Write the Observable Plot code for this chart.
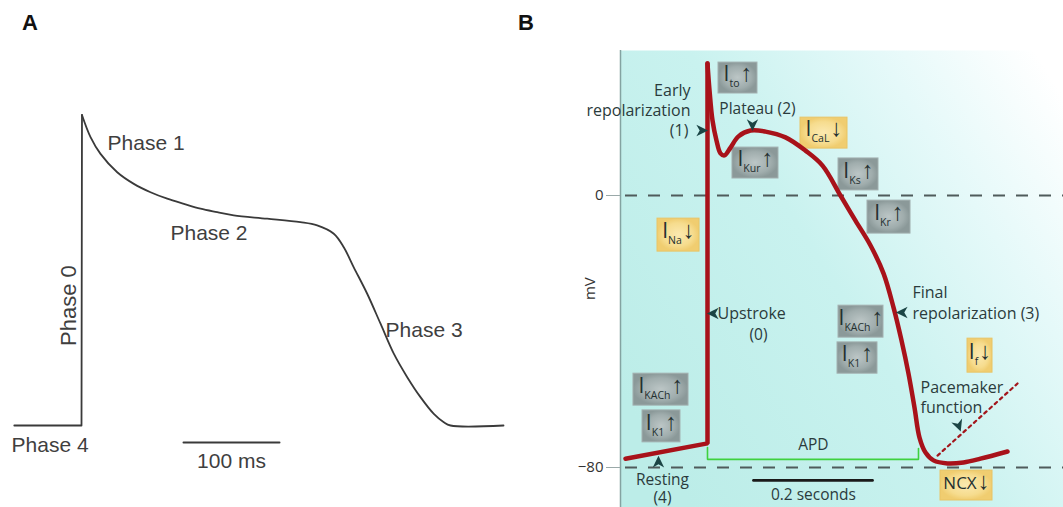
<!DOCTYPE html>
<html>
<head>
<meta charset="utf-8">
<script src="https://cdn.jsdelivr.net/npm/d3@7"></script>
<script src="https://cdn.jsdelivr.net/npm/@observablehq/plot@0.6"></script>
<style>
  body { margin: 0; background: #fff; }
  #fig { position: relative; width: 1063px; height: 507px; overflow: hidden; }
  #fig svg { position: absolute; top: 0; background: transparent; }
  .panel-label { position: absolute; font: bold 22px "Liberation Sans", Arial, sans-serif; color: #111; }
</style>
</head>
<body>
<div id="fig"></div>
<script>
// ---------- Panel A: schematic ventricular action potential (time in ms, voltage in mV) ----------
const restA = [
  {t: -70, v: -85}, {t: 0, v: -85}, {t: 0.5, v: 30}
];
const repolA = [
  {t: 0.5, v: 30}, {t: 9.4, v: 21.8}, {t: 19.8, v: 15.6}, {t: 37.2, v: 8.8},
  {t: 54.5, v: 4.5}, {t: 71.9, v: 1.4}, {t: 89.3, v: -1.0}, {t: 106.6, v: -2.9},
  {t: 124, v: -4.7}, {t: 141.4, v: -6.0}, {t: 158.6, v: -7.2}, {t: 193.4, v: -8.4},
  {t: 228, v: -9.7}, {t: 245.5, v: -10.9}, {t: 262.8, v: -14.0}, {t: 273.2, v: -19.0},
  {t: 283.6, v: -26.4}, {t: 297.6, v: -36.2}, {t: 311.5, v: -47.3}, {t: 325.3, v: -58.4},
  {t: 339.3, v: -67.1}, {t: 353.1, v: -74.5}, {t: 367, v: -80.7}, {t: 377.4, v: -83.8},
  {t: 384.4, v: -85}, {t: 439.6, v: -85}
];
const phaseLabelsA = [
  {text: "Phase 1", t: 27.1, v: 19.4},
  {text: "Phase 2", t: 92.7, v: -13.9},
  {text: "Phase 3", t: 316.7, v: -49.8},
  {text: "Phase 4", t: -72.9, v: -92.4}
];
const phase0LabelA = [{text: "Phase 0", t: -13.5, v: -40.6}];
const scaleBarA = [{t: 106.25, v: -91.3}, {t: 206.25, v: -91.3}];   // 100 ms
const scaleTextA = [{text: "100 ms", t: 156.25, v: -98.3}];

// ---------- Panel B: atrial action potential with ionic currents ----------
const refLevelsB = [0, -80];
const restB = [
  {t: -137.8, v: -77.4}, {t: 0, v: -72.9}, {t: 0, v: 38.8}
];
const repolB = [
  {t: 0, v: 38.8}, {t: 3.4, v: 30.9}, {t: 8.4, v: 22.1}, {t: 15.1, v: 16.2},
  {t: 21.8, v: 12.4}, {t: 28.6, v: 11.8}, {t: 38.7, v: 14.1}, {t: 52.1, v: 17.4},
  {t: 72.3, v: 19.1}, {t: 97.5, v: 18.8}, {t: 131.1, v: 17.1}, {t: 164.7, v: 13.2},
  {t: 193.3, v: 8.8}, {t: 223.5, v: 0}, {t: 248.7, v: -7.4}, {t: 274, v: -14.7},
  {t: 295.8, v: -22.9}, {t: 312.6, v: -32.9}, {t: 326, v: -42.6}, {t: 337.8, v: -52.4},
  {t: 347.9, v: -62.4}, {t: 356.3, v: -71.2}, {t: 366.4, v: -75.6}, {t: 379.8, v: -77.9},
  {t: 403.4, v: -78.8}, {t: 430.3, v: -78.5}, {t: 458.8, v: -77.4}, {t: 504.2, v: -75.3}
];
const pacemakerB = [{t: 386.6, v: -76.5}, {t: 521, v: -55.3}];
const apdB = [{t: 0, v: -74.1}, {t: 0, v: -77.6}, {t: 354.6, v: -77.6}, {t: 354.6, v: -74.4}];
const scaleBarB = [{t: 77.3, v: -83.8}, {t: 277.3, v: -83.8}];   // 0.2 seconds

// current boxes: label written as main|subscript|arrow
const grayCurrents = [
  {label: "I|to|↑",   t1: 18.5,   t2: 84.0,  v1: 39.1,  v2: 30.0},
  {label: "I|Kur|↑",  t1: 42.0,   t2: 119.3, v1: 14.1,  v2: 5.0},
  {label: "I|Ks|↑",   t1: 220.2,  t2: 287.4, v1: 10.9,  v2: 1.5},
  {label: "I|Kr|↑",   t1: 268.9,  t2: 341.2, v1: -1.5,  v2: -11.2},
  {label: "I|KACh|↑", t1: 220.2,  t2: 295.8, v1: -32.4, v2: -41.8},
  {label: "I|K1|↑",   t1: 218.5,  t2: 285.7, v1: -43.2, v2: -52.4},
  {label: "I|KACh|↑", t1: -124.4, t2: -31.9, v1: -52.4, v2: -61.8},
  {label: "I|K1|↑",   t1: -109.2, t2: -45.4, v1: -63.2, v2: -72.6}
];
const yellowCurrents = [
  {label: "I|CaL|↓", t1: 156.3, t2: 235.3, v1: 22.9,  v2: 13.8},
  {label: "I|Na|↓",  t1: -84.0, t2: -13.4, v1: -6.8,  v2: -16.5},
  {label: "I|f|↓",   t1: 437.0, t2: 479.0, v1: -42.1, v2: -52.1},
  {label: "NCX||↓",  t1: 391.6, t2: 479.0, v1: -80.9, v2: -89.7}
];

const labelsEndB = [
  {text: "Early", t: -28.6, v: 30.9},
  {text: "repolarization", t: -28.6, v: 25.0},
  {text: "(1)", t: -32.0, v: 19.1}
];
const labelsStartB = [
  {text: "Upstroke", t: 16.8, v: -34.7},
  {text: "Final", t: 344.5, v: -28.5},
  {text: "repolarization (3)", t: 344.5, v: -34.7},
  {text: "Pacemaker", t: 358.0, v: -56.5},
  {text: "function", t: 358.0, v: -62.4}
];
const labelsMiddleB = [
  {text: "Plateau (2)", t: 84.0, v: 25.3},
  {text: "(0)", t: 85.7, v: -40.9},
  {text: "Resting", t: -75.6, v: -83.6},
  {text: "(4)", t: -75.6, v: -89.0},
  {text: "APD", t: 178, v: -73.5},
  {text: "0.2 seconds", t: 178, v: -88.2}
];
const axisTitleB = [{text: "mV", t: -196.6, v: -27.4}];
const pointersB = [
  {t: -10.1, v: 19.1, angle: 90},
  {t: 75.6, v: 20.9, angle: 180},
  {t: 10.1, v: -34.7, angle: -90},
  {t: 327.7, v: -34.4, angle: -90},
  {t: 421.8, v: -67.6, angle: 160},
  {t: -82.4, v: -78.5, angle: 0}
];

// notched arrowhead, tip pointing up before rotation
const arrowhead = {
  draw(context, size) {
    const s = Math.sqrt(size / Math.PI);
    context.moveTo(0, -s * 1.1);
    context.lineTo(s * 0.95, s * 0.85);
    context.lineTo(0, s * 0.3);
    context.lineTo(-s * 0.95, s * 0.85);
    context.closePath();
  }
};

const fig = document.getElementById("fig");

// ---------- draw panel A ----------
const widthA = 515, heightA = 507;
const plotA = Plot.plot({
  width: widthA, height: heightA,
  margin: 0,
  x: {domain: [-84.375, widthA / 0.96 - 84.375], axis: null},
  y: {domain: [-115.37, 72.41], axis: null},
  marks: [
    Plot.line(restA, {x: "t", y: "v", stroke: "#3a3a3a", strokeWidth: 1.8}),
    Plot.line(repolA, {x: "t", y: "v", curve: "catmull-rom", stroke: "#3a3a3a", strokeWidth: 1.8}),
    Plot.line(scaleBarA, {x: "t", y: "v", stroke: "#3a3a3a", strokeWidth: 2}),
    Plot.text(phaseLabelsA, {x: "t", y: "v", text: "text", textAnchor: "start", fill: "#3f3f3f",
      fontSize: 21, fontFamily: "Liberation Sans, Arial, sans-serif"}),
    Plot.text(phase0LabelA, {x: "t", y: "v", text: "text", rotate: -90, fill: "#3f3f3f",
      fontSize: 22, fontFamily: "Liberation Sans, Arial, sans-serif"}),
    Plot.text(scaleTextA, {x: "t", y: "v", text: "text", fill: "#3f3f3f",
      fontSize: 21, fontFamily: "Liberation Sans, Arial, sans-serif"})
  ]
});
plotA.style.left = "0px";
fig.appendChild(plotA);

// ---------- draw panel B ----------
const annFont = "Open Sans, Lato, sans-serif";
const annColor = "#2b3b3c";
const domainB = [-146.2, 598.3];
const plotB = Plot.plot({
  width: 503, height: 507,
  marginLeft: 60, marginRight: 0, marginTop: 50, marginBottom: 0,
  x: {domain: domainB, axis: null},
  y: {domain: [-91.76, 42.65]},
  marks: [
    Plot.frame({fill: "url(#bgB)", stroke: "none"}),
    Plot.ruleX([domainB[0]], {stroke: "#84a3a1", strokeWidth: 1.5}),
    Plot.axisY({ticks: refLevelsB, tickSize: 14, tickPadding: 3, fontSize: 15,
      fontFamily: annFont, fill: "#333", stroke: "#9aa9a9", label: null}),
    Plot.ruleY(refLevelsB, {stroke: "#4f5b5b", strokeWidth: 2.2, strokeDasharray: "12,11", strokeDashoffset: -5}),
    Plot.line(apdB, {x: "t", y: "v", stroke: "#3fd13f", strokeWidth: 1.6}),
    Plot.line(scaleBarB, {x: "t", y: "v", stroke: "#1a1a1a", strokeWidth: 2.8}),
    Plot.rect(grayCurrents, {x1: "t1", x2: "t2", y1: "v1", y2: "v2", fill: "url(#boxGray)", stroke: "#a3b0b0", strokeWidth: 1}),
    Plot.rect(yellowCurrents, {x1: "t1", x2: "t2", y1: "v1", y2: "v2", fill: "url(#boxYellow)", stroke: "#e9c466", strokeWidth: 1}),
    Plot.text(grayCurrents.concat(yellowCurrents), {
      x: d => (d.t1 + d.t2) / 2, y: d => (d.v1 + d.v2) / 2, text: "label",
      fill: "#243030", fontFamily: annFont, ariaDescription: "current labels"
    }),
    Plot.line(pacemakerB, {x: "t", y: "v", stroke: "#a3161c", strokeWidth: 2.2, strokeDasharray: "3,4"}),
    Plot.line(restB, {x: "t", y: "v", stroke: "#a8121a", strokeWidth: 4.5, strokeLinejoin: "miter"}),
    Plot.line(repolB, {x: "t", y: "v", curve: "catmull-rom", stroke: "#a8121a", strokeWidth: 4.5}),
    Plot.text(labelsEndB, {x: "t", y: "v", text: "text", textAnchor: "end", fill: annColor, fontSize: 16, fontFamily: annFont}),
    Plot.text(labelsStartB, {x: "t", y: "v", text: "text", textAnchor: "start", fill: annColor, fontSize: 16, fontFamily: annFont}),
    Plot.text(labelsMiddleB, {x: "t", y: "v", text: "text", fill: annColor, fontSize: 15.5, fontFamily: annFont}),
    Plot.text(axisTitleB, {x: "t", y: "v", text: "text", rotate: -90, fill: "#333", fontSize: 15, fontFamily: annFont}),
    Plot.dot(pointersB, {x: "t", y: "v", rotate: "angle", symbol: arrowhead, r: 6, fill: "#1b4545", stroke: "none"})
  ]
});
plotB.style.left = "560px";

// gradients used by the panel background and the current boxes
const defs = d3.select(plotB).insert("defs", ":first-child");
const bg = defs.append("linearGradient").attr("id", "bgB")
  .attr("x1", "0").attr("y1", "0.75").attr("x2", "1").attr("y2", "0.1");
[["0", "#bcede8"], ["0.45", "#c9f2ef"], ["0.75", "#e5f9f9"], ["1", "#ffffff"]]
  .forEach(([o, c]) => bg.append("stop").attr("offset", o).attr("stop-color", c));
const gg = defs.append("radialGradient").attr("id", "boxGray");
[["0", "#bcc6c6"], ["0.7", "#a0adad"], ["1", "#8b9999"]]
  .forEach(([o, c]) => gg.append("stop").attr("offset", o).attr("stop-color", c));
const yg = defs.append("radialGradient").attr("id", "boxYellow");
[["0", "#fbe9b0"], ["0.7", "#f6dc8e"], ["1", "#f0cd70"]]
  .forEach(([o, c]) => yg.append("stop").attr("offset", o).attr("stop-color", c));

// current names: main letter, subscript, direction arrow
d3.select(plotB).selectAll('g[aria-description="current labels"] text').each(function () {
  const [main, sub, arrow] = this.textContent.split("|");
  const t = d3.select(this).text(null);
  t.append("tspan").attr("font-size", main.length > 1 ? 17 : 21).text(main);
  if (sub) t.append("tspan").attr("font-size", 10.5).attr("dy", 6).text(sub);
  t.append("tspan").attr("font-size", 24).attr("font-family", "Liberation Sans, DejaVu Sans, sans-serif")
    .attr("dx", 1).attr("dy", sub ? -6 : 0).text(arrow);
});
fig.appendChild(plotB);

// panel letters
[["A", 22], ["B", 518]].forEach(([s, left]) => {
  const d = document.createElement("div");
  d.className = "panel-label";
  d.textContent = s;
  d.style.left = left + "px";
  d.style.top = "10px";
  fig.appendChild(d);
});
</script>
</body>
</html>
